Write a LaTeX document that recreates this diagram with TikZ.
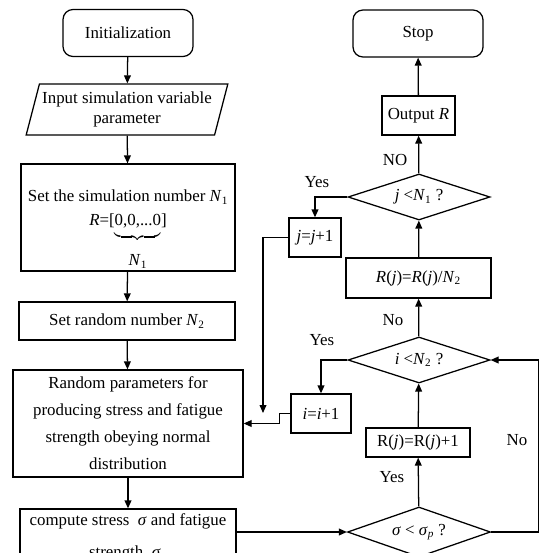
\documentclass[tikz,border=0pt]{standalone}
\usepackage{fontspec}
\setmainfont{Liberation Serif}
\usetikzlibrary{shapes.geometric, arrows.meta, positioning}

\begin{document}
\begin{tikzpicture}[
    x=0.25mm, y=-0.25mm,
    line width=0.9pt,
    font=\fontsize{12}{14}\selectfont,
    arr/.style={-{Triangle[length=2mm,width=1.7mm]}},
    process/.style={draw, align=center, inner sep=1pt},
    terminal/.style={draw, rounded corners=2.5mm, align=center,
                     minimum width=32.5mm, minimum height=11.75mm},
    decision/.style={draw, diamond, aspect=3, inner sep=0pt,
                     minimum width=35.5mm, minimum height=11.5mm},
    ioput/.style={draw, trapezium, trapezium left angle=70,
                  trapezium right angle=110, trapezium stretches=true,
                  align=center, inner sep=0pt},
    lbl/.style={inner sep=1pt}
]
    \useasboundingbox (0,0) rectangle (541,553);

    % left column
    \node[terminal] (init) at (128,33) {Initialization};
    \node[ioput, minimum width=50.5mm, minimum height=12.75mm,
          font=\fontsize{12}{14.2}\selectfont] (input) at (127,109.5)
        {Input simulation variable\\parameter};
    \node[process, minimum width=53.5mm, minimum height=26.25mm,
          font=\fontsize{12}{16.4}\selectfont] (setsim) at (128,217.5)
        {\rule{0pt}{26pt}Set the simulation number \textit{N}\textsubscript{1}\\
         \textit{R}=[$\underbrace{\mbox{0,0,...0}\rule[-5pt]{0pt}{0pt}}_{\mbox{\rule{0pt}{15pt}\textit{N}\textsubscript{1}}}$]};
    \node[process, minimum width=54mm, minimum height=9.5mm] (setrand) at (127,321)
        {Set random number \textit{N}\textsubscript{2}};
    \node[process, minimum width=57.5mm, minimum height=26.75mm,
          font=\fontsize{12}{19.2}\selectfont] (params) at (128,423.5)
        {Random parameters for\\producing stress and fatigue\\
         strength obeying normal\\distribution};
    \node[process, minimum width=54mm, minimum height=14.5mm,
          font=\fontsize{12}{22.8}\selectfont] (comp) at (128,538)
        {compute stress\enspace\textit{σ} and fatigue\\
         strength\enspace\textit{σ}\textsubscript{\textit{p}}};

    % right column
    \node[terminal] (stop) at (418,33.5) {Stop};
    \node[process, minimum width=18.25mm, minimum height=9.75mm] (out) at (418.5,115.5)
        {Output \textit{R}};
    \node[decision] (jdec) at (419,197)
        {\textit{j} <\textit{N}\textsubscript{1} ?};
    \node[process, minimum width=13mm, minimum height=9.75mm] (jinc) at (315,237.5)
        {\textit{j}=\textit{j}+1};
    \node[process, minimum width=36.25mm, minimum height=10mm] (rdiv) at (418.5,278)
        {\textit{R}(\textit{j})=\textit{R}(\textit{j})/\textit{N}\textsubscript{2}};
    \node[decision] (idec) at (419,360)
        {\textit{i} <\textit{N}\textsubscript{2} ?};
    \node[process, minimum width=15mm, minimum height=9.75mm] (iinc) at (321,413.5)
        {\textit{i}=\textit{i}+1};
    \node[process, minimum width=26mm, minimum height=7.25mm] (rinc) at (418,442.5)
        {R(\textit{j})=R(\textit{j})+1};
    \node[decision, minimum width=35.75mm, minimum height=12.5mm] (sig) at (419,532)
        {\textit{σ} < \textit{σ}\textsubscript{\textit{p}} ?};
    \coordinate (jend) at (263,413);

    % connectors
    \draw[arr] (init) -- (input);
    \draw[arr] (input) -- (setsim);
    \draw[arr] (setsim) -- (setrand);
    \draw[arr] (setrand) -- (params);
    \draw[arr] (params) -- (comp);
    \draw[arr] (sig.west -| comp.east) -- (sig.west);
    \draw[arr] (sig) -- (rinc);
    \draw[arr] (rinc) -- (idec);
    \draw[arr] (sig.east) -- ++(47,0) |- (idec.east);
    \draw[arr] (idec) -- (rdiv);
    \draw[arr] (idec.west) -| (iinc.north);
    \draw[arr] (iinc.west) -- ++(-11,0) |- (params.east);
    \draw[arr] (rdiv) -- (jdec);
    \draw[arr] (jdec) -- (out);
    \draw[arr] (jdec.west) -| (jinc.north);
    \draw[arr] (jinc.west) -| (jend);
    \draw[arr] (out) -- (stop);

    % labels
    \node[lbl] (lno1) at (395,160) {NO};
    \node[lbl] (lyes1) at (317,182) {Yes};
    \node[lbl] (lno2) at (393,320) {No};
    \node[lbl] (lyes2) at (322,340) {Yes};
    \node[lbl] (lno3) at (517,440) {No};
    \node[lbl] (lyes3) at (392,477) {Yes};
\end{tikzpicture}
\end{document}
